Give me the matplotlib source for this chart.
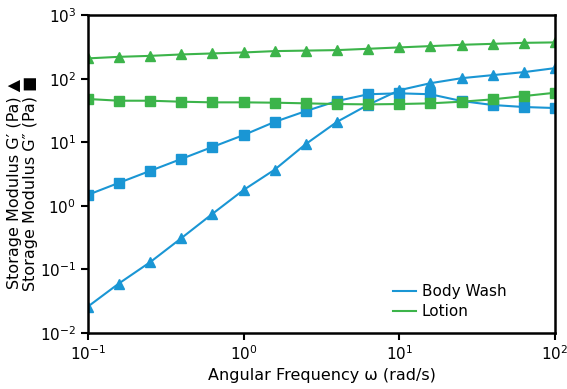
import matplotlib.pyplot as plt
from matplotlib.lines import Line2D

freq = [0.1, 0.158, 0.251, 0.398, 0.631, 1.0, 1.58, 2.51, 3.98, 6.31,
        10.0, 15.8, 25.1, 39.8, 63.1, 100.0]

wash_g1 = [0.026, 0.06, 0.13, 0.31, 0.75, 1.78, 3.7, 9.4, 21.0, 39.0,
           66.0, 85.0, 102.0, 114.0, 127.0, 147.0]
wash_g2 = [1.49, 2.3, 3.55, 5.47, 8.45, 13.0, 20.9, 31.0, 44.6, 57.0,
           59.0, 57.0, 44.6, 38.6, 35.9, 34.6]
lotion_g1 = [209, 221, 229, 241, 250, 259, 272, 277, 282, 296,
             311, 326, 342, 354, 367, 373]
lotion_g2 = [48.0, 45.1, 45.1, 43.5, 42.5, 42.5, 42.0, 41.0, 40.0, 39.5,
             40.0, 41.0, 43.5, 47.4, 53.4, 60.2]

blue = '#1a96d4'
green = '#3cb44a'

fig = plt.figure(figsize=(5.67, 3.89), dpi=100)
ax = fig.add_axes([0.155, 0.144, 0.824, 0.817])

ax.plot(freq, wash_g1, color=blue, lw=1.5, marker='^', ms=7.5)
ax.plot(freq, wash_g2, color=blue, lw=1.5, marker='s', ms=7)
ax.plot(freq, lotion_g1, color=green, lw=1.5, marker='^', ms=7.5)
ax.plot(freq, lotion_g2, color=green, lw=1.5, marker='s', ms=7)

ax.set_xscale('log')
ax.set_yscale('log')
ax.set_xlim(0.1, 100)
ax.set_ylim(0.01, 1000)
ax.minorticks_off()
ax.set_xticks([0.1, 1, 10, 100])
ax.set_yticks([0.01, 0.1, 1, 10, 100, 1000])
ax.tick_params(direction='out', length=5, width=1.5, labelsize=11)
for s in ax.spines.values():
    s.set_linewidth(1.8)

ax.set_xlabel('Angular Frequency ω (rad/s)', fontsize=11.5, labelpad=3)
ax.set_ylabel("Storage Modulus G′ (Pa) ▲\nStorage Modulus G″ (Pa) ■", fontsize=11.5,
              linespacing=1.1)
ax.yaxis.set_label_coords(-0.106, 0.47)

handles = [Line2D([], [], color=blue, lw=1.5), Line2D([], [], color=green, lw=1.5)]
ax.legend(handles, ['Body Wash', 'Lotion'], loc='lower right',
          bbox_to_anchor=(0.925, 0.0), frameon=False,
          handlelength=1.5, handletextpad=0.4, fontsize=11, labelspacing=0.35)

fig.savefig('out.png', dpi=100)
